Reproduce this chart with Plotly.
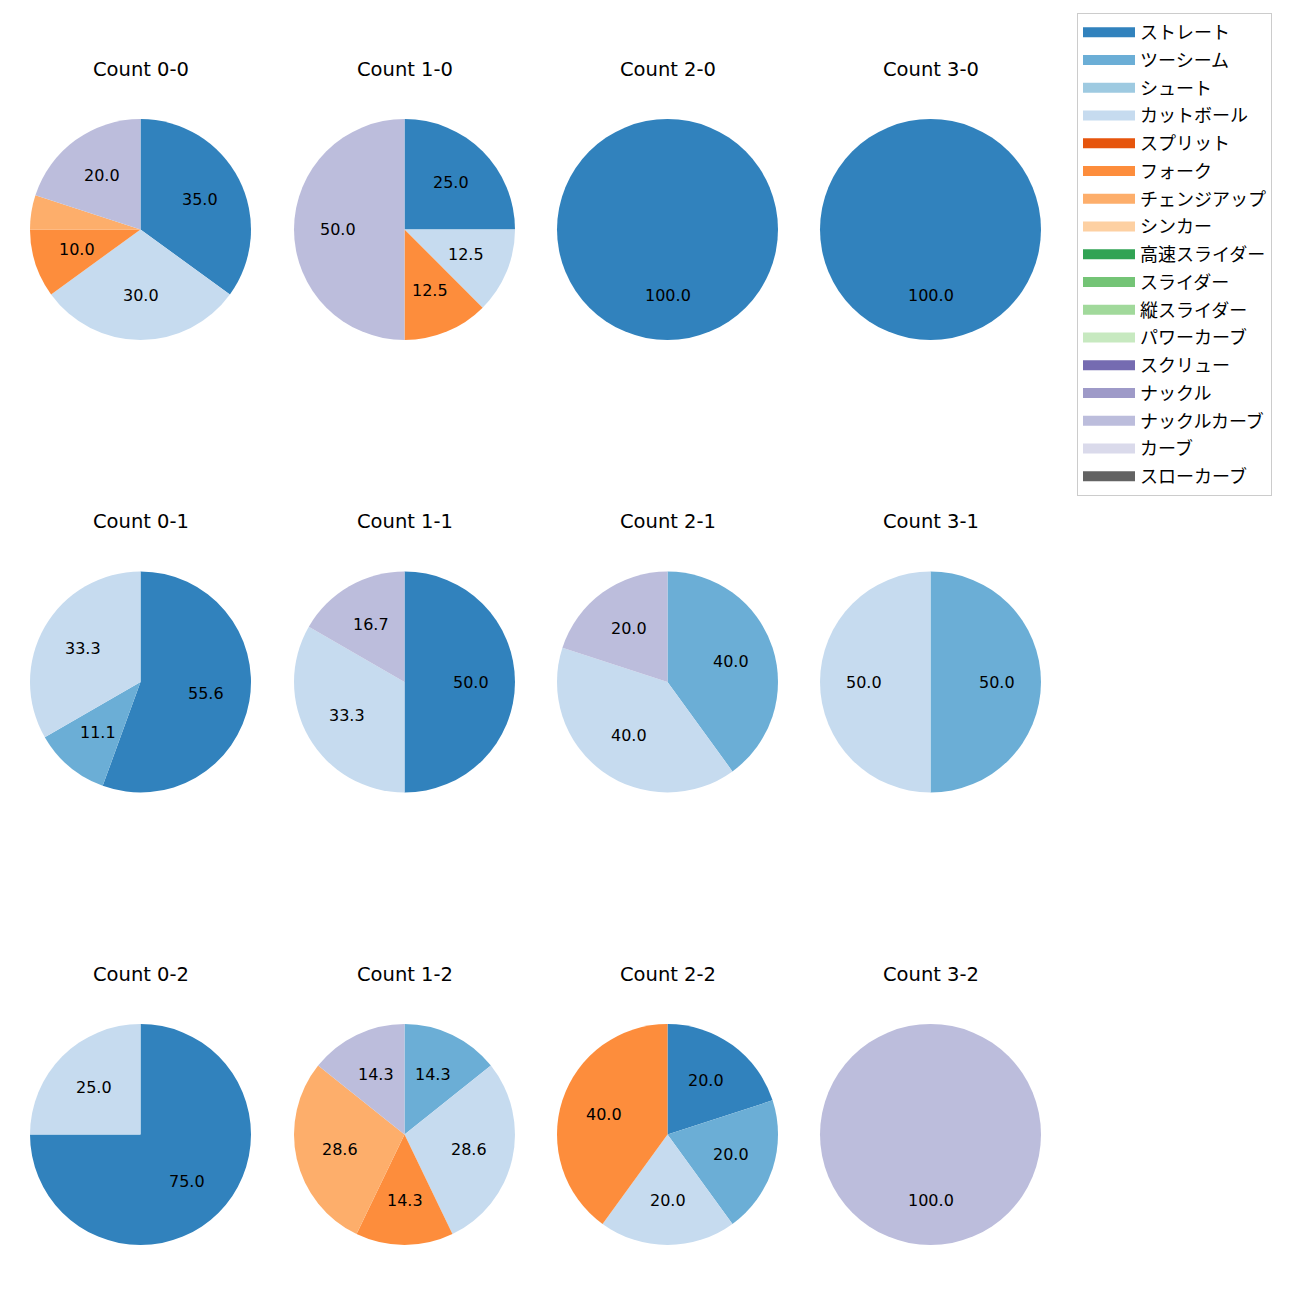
import math
import plotly.graph_objects as go

# ---- data ----
pitch_types = ["ストレート", "ツーシーム", "シュート", "カットボール", "スプリット", "フォーク",
               "チェンジアップ", "シンカー", "高速スライダー", "スライダー", "縦スライダー",
               "パワーカーブ", "スクリュー", "ナックル", "ナックルカーブ", "カーブ", "スローカーブ"]
pitch_colors = ["#3182bd", "#6baed6", "#9ecae1", "#c6dbef", "#e6550d", "#fd8d3c",
                "#fdae6b", "#fdd0a2", "#31a354", "#74c476", "#a1d99b", "#c7e9c0",
                "#756bb1", "#9e9ac8", "#bcbddc", "#dadaeb", "#636363"]

count_titles = ["Count 0-0", "Count 1-0", "Count 2-0", "Count 3-0",
                "Count 0-1", "Count 1-1", "Count 2-1", "Count 3-1",
                "Count 0-2", "Count 1-2", "Count 2-2", "Count 3-2"]

count_00 = {"ストレート": 7, "カットボール": 6, "フォーク": 2, "チェンジアップ": 1, "ナックルカーブ": 4}
count_10 = {"ストレート": 2, "カットボール": 1, "フォーク": 1, "ナックルカーブ": 4}
count_20 = {"ストレート": 1}
count_30 = {"ストレート": 1}
count_01 = {"ストレート": 5, "ツーシーム": 1, "カットボール": 3}
count_11 = {"ストレート": 3, "カットボール": 2, "ナックルカーブ": 1}
count_21 = {"ツーシーム": 2, "カットボール": 2, "ナックルカーブ": 1}
count_31 = {"ツーシーム": 1, "カットボール": 1}
count_02 = {"ストレート": 3, "カットボール": 1}
count_12 = {"ツーシーム": 1, "カットボール": 2, "フォーク": 1, "チェンジアップ": 2, "ナックルカーブ": 1}
count_22 = {"ストレート": 1, "ツーシーム": 1, "カットボール": 1, "フォーク": 2}
count_32 = {"ナックルカーブ": 1}

all_counts = [count_00, count_10, count_20, count_30,
              count_01, count_11, count_21, count_31,
              count_02, count_12, count_22, count_32]

# ---- layout geometry (pixels, page body has 8px offset) ----
W = H = 1300
col_cx = [132.5, 396.5, 659.5, 922.5]
row_cy = [221.5, 674.0, 1126.5]
R = 110.5
NUM_FONT = "DejaVu Sans, Noto Sans CJK JP, sans-serif"
JP_FONT = "Noto Sans CJK JP, DejaVu Sans, sans-serif"

fig = go.Figure()
annotations = []

for idx, cdata in enumerate(all_counts):
    r_i, c_i = divmod(idx, 4)
    cx, cy = col_cx[c_i], row_cy[r_i]
    labs = [p for p in pitch_types if cdata.get(p, 0) > 0]
    vals = [cdata[p] for p in labs]
    cols = [pitch_colors[pitch_types.index(p)] for p in labs]
    fig.add_trace(go.Pie(
        labels=labs, values=vals, sort=False, direction="clockwise", rotation=0,
        marker=dict(colors=cols, line=dict(width=0)),
        textinfo="none", hoverinfo="label+percent", showlegend=False,
        domain=dict(x=[(cx - R) / W, (cx + R) / W], y=[1 - (cy + R) / H, 1 - (cy - R) / H]),
    ))
    # percentage labels at 0.6 radius like matplotlib autopct
    total = sum(vals)
    start = 90.0
    for v in vals:
        pct = 100.0 * v / total
        span = 360.0 * v / total
        mid = math.radians(start - span / 2)
        start -= span
        if pct <= 5.0:
            continue
        px = cx + 0.6 * R * math.cos(mid)
        py = cy - 0.6 * R * math.sin(mid)
        annotations.append(dict(x=px / W, y=1 - py / H, xref="paper", yref="paper",
                                text=f"{pct:.1f}", showarrow=False,
                                xanchor="center", yanchor="middle",
                                font=dict(size=16, color="black", family=NUM_FONT)))
    annotations.append(dict(x=cx / W, y=1 - (cy - 160.5) / H, xref="paper", yref="paper",
                            text=count_titles[idx], showarrow=False,
                            xanchor="center", yanchor="middle",
                            font=dict(size=19.5, color="black", family=NUM_FONT)))

# legend entries
for p, col in zip(pitch_types, pitch_colors):
    fig.add_trace(go.Scatter(x=[None], y=[None], mode="lines", name=p,
                             line=dict(color=col, width=13), legendgroup=p,
                             showlegend=True, hoverinfo="skip"))

fig.update_layout(
    width=W, height=H,
    margin=dict(l=0, r=0, t=0, b=0),
    paper_bgcolor="white", plot_bgcolor="white",
    font=dict(family=JP_FONT, size=18, color="black"),
    xaxis=dict(visible=False, domain=[0, 0.001]),
    yaxis=dict(visible=False, domain=[0, 0.001]),
    annotations=annotations,
    legend=dict(x=1069 / W, y=1 - 5 / H, xanchor="left", yanchor="top",
                bgcolor="white", bordercolor="#cccccc", borderwidth=1,
                font=dict(size=18, family=JP_FONT), tracegroupgap=1.35,
                itemwidth=52, traceorder="grouped"),
)

fig.write_html("out.html")
